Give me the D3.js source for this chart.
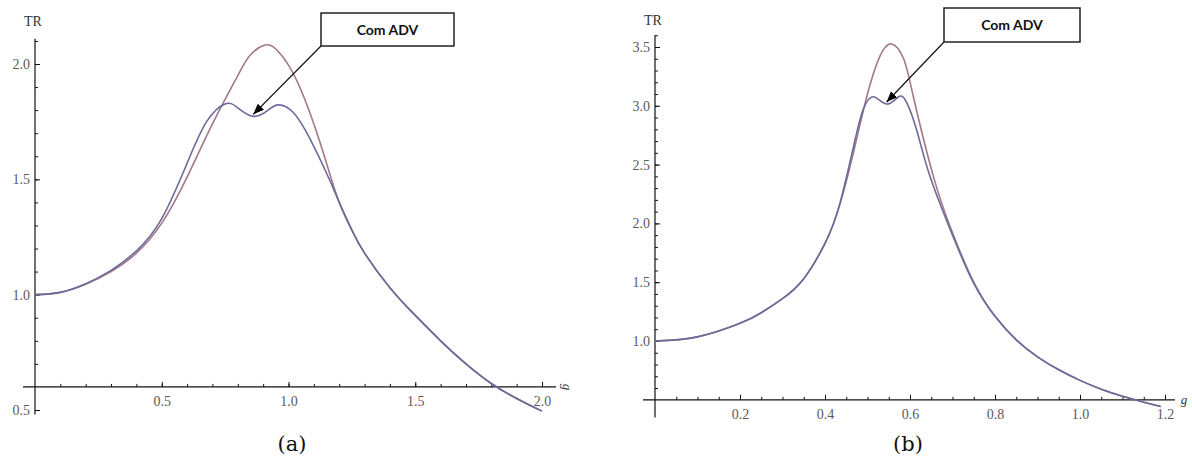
<!DOCTYPE html>
<html>
<head>
<meta charset="utf-8">
<script src="https://cdn.jsdelivr.net/npm/d3@7"></script>
<style>
  body { margin: 0; background: #fff; }
  .tick text { font-family: "Liberation Serif", serif; font-size: 14px; fill: #5a5a5a; }
  .tick line { stroke: #111; }
  .label { font-family: "Liberation Serif", serif; fill: #333; }
  .caption { font-family: "DejaVu Serif", "Liberation Serif", serif; font-size: 21px; fill: #111; }
  .note { font-family: Lato, "Open Sans", sans-serif; font-weight: bold; font-size: 14px; fill: #111; }
</style>
</head>
<body>
<div id="chart"></div>
<script>
// panel (a): TR vs g
var aX =        [0, 0.1, 0.2, 0.3, 0.4, 0.5, 0.6, 0.7, 0.8, 0.85, 0.907, 0.95, 1.0, 1.05, 1.1, 1.15, 1.2, 1.25, 1.3, 1.4, 1.5, 1.6, 1.7, 1.8, 1.9, 2.0];
var aSemADV =   [1.0, 1.01, 1.045, 1.10, 1.18, 1.31, 1.51, 1.74, 1.95, 2.04, 2.082, 2.065, 1.995, 1.885, 1.74, 1.57, 1.40, 1.28, 1.18, 1.03, 0.91, 0.80, 0.70, 0.615, 0.55, 0.495];
var aComADVx =  [0, 0.1, 0.2, 0.3, 0.4, 0.5, 0.6, 0.677, 0.75, 0.8, 0.861, 0.92, 0.96, 1.019, 1.085, 1.157, 1.2, 1.25, 1.3, 1.4, 1.5, 1.6, 1.7, 1.8, 1.9, 2.0];
var aComADV =   [1.0, 1.01, 1.047, 1.105, 1.19, 1.33, 1.57, 1.75, 1.827, 1.81, 1.773, 1.80, 1.823, 1.79, 1.675, 1.51, 1.40, 1.28, 1.18, 1.03, 0.91, 0.80, 0.70, 0.615, 0.55, 0.495];
var aXTicks = [0.5, 1.0, 1.5, 2.0];
var aYTicks = [0.5, 1.0, 1.5, 2.0];

// panel (b)
var bX =        [0, 0.1, 0.2, 0.25, 0.3, 0.35, 0.4, 0.435, 0.47, 0.5, 0.529, 0.557, 0.585, 0.608, 0.655, 0.7, 0.75, 0.8, 0.85, 0.9, 0.95, 1.0, 1.05, 1.1, 1.15, 1.19];
var bSemADV =   [1.0, 1.035, 1.15, 1.24, 1.36, 1.53, 1.83, 2.16, 2.65, 3.10, 3.42, 3.526, 3.40, 3.077, 2.40, 1.92, 1.50, 1.21, 1.01, 0.865, 0.755, 0.665, 0.59, 0.53, 0.48, 0.443];
var bComADVx =  [0, 0.1, 0.2, 0.25, 0.3, 0.35, 0.4, 0.435, 0.47, 0.49, 0.514, 0.545, 0.573, 0.592, 0.616, 0.647, 0.7, 0.75, 0.8, 0.85, 0.9, 0.95, 1.0, 1.05, 1.1, 1.15, 1.19];
var bComADV =   [1.0, 1.035, 1.15, 1.24, 1.36, 1.53, 1.83, 2.17, 2.70, 2.97, 3.077, 3.015, 3.077, 3.03, 2.79, 2.40, 1.90, 1.49, 1.21, 1.01, 0.865, 0.755, 0.665, 0.59, 0.53, 0.48, 0.443];
var bXTicks = [0.2, 0.4, 0.6, 0.8, 1.0, 1.2];
var bYTicks = [1.0, 1.5, 2.0, 2.5, 3.0, 3.5];

var noteText = "Com ADV";
var semColor = "#a37888";
var comColor = "#6a6a9c";

var width = 1192, height = 463;
var svg = d3.select("#chart").append("svg")
    .attr("width", width)
    .attr("height", height);

svg.append("defs").append("marker")
    .attr("id", "arrow")
    .attr("viewBox", "0 0 10 10")
    .attr("refX", 10).attr("refY", 5)
    .attr("markerWidth", 9).attr("markerHeight", 9)
    .attr("orient", "auto")
  .append("path")
    .attr("d", "M0,1 L10,5 L0,9 z")
    .attr("fill", "#000");

function zip(xs, ys) {
    return xs.map(function(x, i) { return { x: x, y: ys[i] }; });
}

function drawPanel(p) {
    var x = d3.scaleLinear().domain(p.xDomain).range(p.xRange);
    var y = d3.scaleLinear().domain(p.yDomain).range(p.yRange);
    var g = svg.append("g");

    var axisY = y(p.crossY);

    // x axis line + ticks
    g.append("line")
        .attr("x1", p.xLine[0]).attr("x2", p.xLine[1])
        .attr("y1", axisY).attr("y2", axisY)
        .attr("stroke", "#111").attr("stroke-width", 1.2);
    g.append("g")
        .attr("transform", "translate(0," + axisY + ")")
        .call(d3.axisBottom(x).tickValues(p.xMinor).tickSize(-3).tickFormat(""))
        .call(function(s) { s.select(".domain").remove(); });
    g.append("g")
        .attr("transform", "translate(0," + axisY + ")")
        .call(d3.axisBottom(x).tickValues(p.xTicks).tickSize(-5).tickPadding(9).tickFormat(d3.format(".1f")))
        .call(function(s) { s.select(".domain").remove(); });

    // y axis line + ticks
    g.append("line")
        .attr("x1", x(0)).attr("x2", x(0))
        .attr("y1", y(p.yLine[0])).attr("y2", y(p.yLine[1]))
        .attr("stroke", "#111").attr("stroke-width", 1.2);
    g.append("g")
        .attr("transform", "translate(" + x(0) + ",0)")
        .call(d3.axisLeft(y).tickValues(p.yMinor).tickSize(-3).tickFormat(""))
        .call(function(s) { s.select(".domain").remove(); });
    g.append("g")
        .attr("transform", "translate(" + x(0) + ",0)")
        .call(d3.axisLeft(y).tickValues(p.yTicks).tickSize(-5).tickPadding(5).tickFormat(d3.format(".1f")))
        .call(function(s) { s.select(".domain").remove(); });

    g.append("text").attr("class", "label")
        .attr("x", x(0) - 2).attr("y", p.trY)
        .attr("text-anchor", "middle")
        .attr("font-size", 14)
        .text("TR");

    var gl = g.append("text").attr("class", "label")
        .attr("font-size", 13).attr("font-style", "italic")
        .attr("text-anchor", "middle")
        .attr("x", p.gLabel[0]).attr("y", p.gLabel[1])
        .text("g");
    if (p.gRotate) gl.attr("transform", "rotate(90," + p.gLabel[0] + "," + (p.gLabel[1] - 4) + ")");

    var line = d3.line()
        .x(function(d) { return x(d.x); })
        .y(function(d) { return y(d.y); })
        .curve(d3.curveNatural);

    g.append("path")
        .datum(p.sem)
        .attr("d", line)
        .attr("fill", "none")
        .attr("stroke", semColor)
        .attr("stroke-width", 1.6);
    g.append("path")
        .datum(p.com)
        .attr("d", line)
        .attr("fill", "none")
        .attr("stroke", comColor)
        .attr("stroke-width", 1.6);

    // annotation box + arrow
    var b = p.box;
    g.append("rect")
        .attr("x", b[0]).attr("y", b[1])
        .attr("width", b[2]).attr("height", b[3])
        .attr("fill", "#fff").attr("stroke", "#222").attr("stroke-width", 1.5);
    g.append("text").attr("class", "note")
        .attr("x", b[0] + b[2] / 2).attr("y", b[1] + b[3] / 2 + 5)
        .attr("text-anchor", "middle")
        .text(noteText);
    g.append("line")
        .attr("x1", b[0]).attr("y1", b[1] + b[3])
        .attr("x2", x(p.dip[0])).attr("y2", y(p.dip[1]) - 2)
        .attr("stroke", "#111").attr("stroke-width", 1.2)
        .attr("marker-end", "url(#arrow)");

    svg.append("text").attr("class", "caption")
        .attr("x", p.caption[0]).attr("y", p.caption[1])
        .attr("text-anchor", "middle")
        .text(p.captionText);
}

drawPanel({
    xDomain: [0, 2], xRange: [35, 542],
    yDomain: [0.5, 2.0], yRange: [410, 64],
    crossY: 0.6,
    xLine: [23, 556],
    yLine: [0.48, 2.11],
    xTicks: aXTicks, yTicks: aYTicks,
    xMinor: d3.range(1, 21).map(function(i) { return i / 10; }),
    yMinor: d3.range(7, 22).map(function(i) { return i / 10; }),
    sem: zip(aX, aSemADV), com: zip(aComADVx, aComADV),
    trY: 26, gLabel: [567, 391], gRotate: true,
    box: [321, 13, 133, 33],
    dip: [0.861, 1.773],
    caption: [292, 451], captionText: "(a)"
});

drawPanel({
    xDomain: [0, 1.2], xRange: [655, 1165],
    yDomain: [1.0, 3.5], yRange: [341, 47],
    crossY: 0.5,
    xLine: [643, 1175],
    yLine: [0.35, 3.6],
    xTicks: bXTicks, yTicks: bYTicks,
    xMinor: d3.range(1, 25).map(function(i) { return i * 0.05; }),
    yMinor: d3.range(6, 37).map(function(i) { return i / 10; }),
    sem: zip(bX, bSemADV), com: zip(bComADVx, bComADV),
    trY: 25, gLabel: [1184, 404], gRotate: false,
    box: [944, 8, 136, 34],
    dip: [0.545, 3.015],
    caption: [908, 451], captionText: "(b)"
});
</script>
</body>
</html>
